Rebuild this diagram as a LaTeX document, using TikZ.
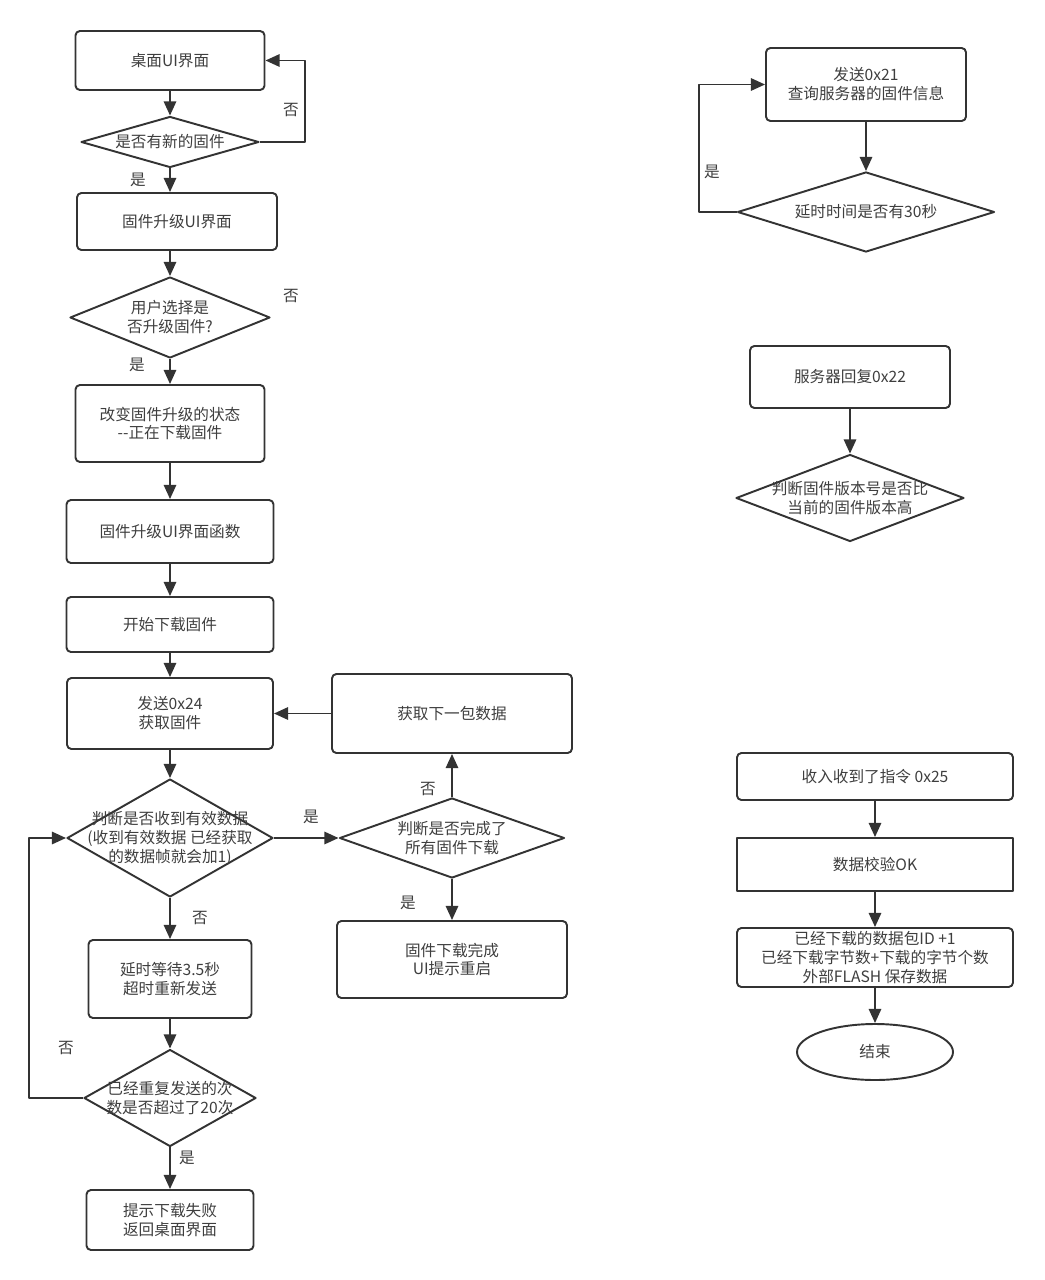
\documentclass[tikz,border=0pt]{standalone}
\usepackage{fontspec}
\newfontfamily\cjk{Noto Sans CJK SC}
\usetikzlibrary{shapes.geometric,arrows.meta}

\definecolor{linegray}{RGB}{51,51,51}
\definecolor{txtgray}{RGB}{62,62,62}

\tikzset{
    wh/.style 2 args={minimum width=#1*0.02cm, minimum height=#2*0.02cm},
    stepbox/.style={draw=linegray, line width=1.1pt, rounded corners=2.5pt,
        align=center, inner sep=0pt},
    plainbox/.style={stepbox, sharp corners},
    decision/.style={draw=linegray, line width=1.1pt, diamond, inner sep=0pt},
    dtxt/.style={align=center, inner sep=0pt},
    endcap/.style={draw=linegray, line width=1.1pt, ellipse, inner sep=0pt},
    flow/.style={draw=linegray, line width=1.1pt, -{Triangle[length=8pt,width=7pt]}},
}

\begin{document}
\begin{tikzpicture}[
    x=0.02cm, y=-0.02cm,
    line join=round,
    every node/.style={font=\cjk\fontsize{8.9}{10.8}\selectfont, text=txtgray},
]

\useasboundingbox (0,0) rectangle (1044,1280);

% ---------- left column: upgrade flow ----------
\node[stepbox, wh={189}{59}] (desk) at (170,60.5) {桌面UI界面};
\node[decision, wh={178}{51}, label={[dtxt]center:是否有新的固件}] (newfw) at (170,142) {};
\node[stepbox, wh={200}{57}] (upgUI) at (177,221.5) {固件升级UI界面};
\node[decision, wh={200}{81}, label={[dtxt]center:{用户选择是\\否升级固件?}}] (choose) at (170,317.5) {};
\node[stepbox, wh={189}{77}] (state) at (170,423.5) {改变固件升级的状态\\--正在下载固件};
\node[stepbox, wh={207}{63}] (uifunc) at (170,531.5) {固件升级UI界面函数};
\node[stepbox, wh={207}{55}] (start) at (170,624.5) {开始下载固件};
\node[stepbox, wh={206}{71}] (send24) at (170,713.5) {发送0x24\\获取固件};
\node[decision, wh={206}{118},
    label={[dtxt]center:{判断是否收到有效数据\\(收到有效数据 已经获取\\的数据帧就会加1)}}] (valid) at (170,838) {};
\node[stepbox, wh={163}{78}] (delay) at (170,979) {延时等待3.5秒\\超时重新发送};
\node[decision, wh={172}{97}, label={[dtxt]center:{已经重复发送的次\\数是否超过了20次}}] (retry) at (170,1098) {};
\node[stepbox, wh={167}{60}] (fail) at (170,1220) {提示下载失败\\返回桌面界面};

% middle column
\node[stepbox, wh={240}{79}] (nextpkt) at (452,713.5) {获取下一包数据};
\node[decision, wh={225}{80}, label={[dtxt]center:{判断是否完成了\\所有固件下载}}] (alldone) at (452,838) {};
\node[stepbox, wh={230}{77}] (finish) at (452,959.5) {固件下载完成\\UI提示重启};

% ---------- right column: server query / reply / packet ----------
\node[stepbox, wh={200}{73}] (send21) at (866,84.5) {发送0x21\\查询服务器的固件信息};
\node[decision, wh={257}{80}, label={[dtxt]center:延时时间是否有30秒}] (wait30) at (866,212) {};
\node[stepbox, wh={200}{62}] (reply22) at (850,377) {服务器回复0x22};
\node[decision, wh={228}{87}, label={[dtxt]center:{判断固件版本号是否比\\当前的固件版本高}}] (vercmp) at (850,498) {};
\node[stepbox, wh={276}{47}] (recv25) at (875,776.5) {收入收到了指令 0x25};
\node[plainbox, wh={276}{53}] (check) at (875,864.5) {数据校验OK};
\node[stepbox, wh={276}{59}] (save) at (875,957.5) {已经下载的数据包ID +1\\已经下载字节数+下载的字节个数\\外部FLASH 保存数据};
\node[endcap, wh={156}{56}] (endnode) at (875,1052) {结束};

% ---------- straight arrows ----------
\foreach \a/\b in {desk/newfw, state/uifunc, uifunc/start, start/send24, send24/valid,
        valid/delay, delay/retry, retry/fail, alldone/finish, alldone/nextpkt,
        nextpkt/send24, valid/alldone, send21/wait30, reply22/vercmp,
        recv25/check, check/save, save/endnode}
    \draw[flow] (\a) -- (\b);
\draw[flow] (newfw.south) -- (newfw.south |- upgUI.north);
\draw[flow] (upgUI.south -| choose.north) -- (choose.north);
\draw[flow] (choose.south) -- (state.north);

% loops back
\draw[flow] (newfw.east) -- ++(45,0) |- (desk.east);
\draw[flow] (retry.west) -- ++(-54,0) |- (valid.west);
\draw[flow] (wait30.west) -- ++(-38,0) |- (send21.west);

% ---------- yes / no labels ----------
\node (no1) at (291,110) {否};
\node (yes1) at (138,180) {是};
\node (no2) at (291,296) {否};
\node (yes2) at (137,365) {是};
\node (yes3) at (311,817) {是};
\node (no3) at (428,789) {否};
\node (yes4) at (408,903) {是};
\node (no4) at (200,918) {否};
\node (no5) at (66,1048) {否};
\node (yes5) at (187,1158) {是};
\node (yes6) at (712,172) {是};

\end{tikzpicture}
\end{document}
